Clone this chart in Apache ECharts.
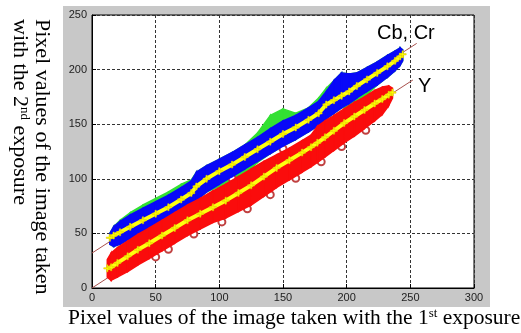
<!DOCTYPE html>
<html>
<head>
<meta charset="utf-8">
<script src="https://cdn.jsdelivr.net/npm/echarts@6/dist/echarts.min.js"></script>
<style>
  html, body { margin: 0; padding: 0; background: #fff; }
  #chart { width: 521px; height: 333px; }
</style>
</head>
<body>
<div id="chart"></div>
<script>
// Cb, Cr band (blue over green, yellow centre)
const cbX      = [14, 17, 22, 30, 40, 50, 60, 70, 78, 82, 90, 100, 110, 120, 130, 140, 150, 160, 170, 178, 184, 190, 196, 202, 208, 216, 224, 232, 238, 242, 244];
const cbTop    = [50, 56, 61, 67, 73, 79, 85, 92, 98, 106, 112, 118, 124, 131, 138, 146, 153, 158, 165, 171, 180, 190, 197, 196, 197, 202, 207, 213, 217, 220, 218];
const cbBottom = [40, 38, 40, 45, 51, 57, 63, 70, 76, 80, 88, 95, 102, 109, 116, 123, 130, 136, 143, 149, 155, 160, 165, 169, 174, 180, 186, 193, 199, 204, 208];
const cbMid    = [46, 48, 51, 56, 62, 68, 74, 81, 87, 93, 100, 107, 113, 120, 127, 134, 141, 147, 154, 160, 168, 172, 176, 180, 185, 191, 197, 203, 208, 212, 214];
const greenTop    = [50, 56, 62, 69, 76, 82, 88, 95, 99, 106, 112, 118, 124, 131, 142, 158, 164, 160, 165, 174, 183, 190, 197, 196, 197, 202, 207, 213, 217, 220, 218];
const greenBottom = [40, 38, 40, 45, 51, 57, 63, 70, 76, 80, 88, 93, 96, 104, 115, 123, 130, 136, 143, 149, 155, 160, 165, 165, 170, 177, 186, 193, 199, 204, 208];

// Y band (red, yellow centre)
const yX      = [12, 15, 20, 28, 36, 45, 55, 65, 75, 85, 95, 105, 115, 125, 135, 145, 155, 165, 172, 177, 183, 190, 198, 206, 214, 222, 228, 233, 236];
const yTop    = [26, 32, 37, 43, 49, 55, 62, 69, 76, 82, 89, 95, 102, 109, 116, 122, 128, 135, 140, 148, 153, 158, 164, 170, 175, 181, 184, 185, 183];
const yBottom = [10, 7, 10, 15, 21, 27, 34, 41, 48, 54, 60, 64, 70, 76, 84, 92, 99, 106, 111, 115, 120, 126, 133, 139, 146, 153, 159, 167, 174];
const yMid    = [18, 19, 23, 29, 35, 41, 48, 55, 62, 68, 74, 80, 87, 94, 102, 110, 117, 124, 129, 133, 138, 144, 151, 157, 163, 169, 173, 177, 179];

// open circles sticking out of the red cloud
const rimPoints = [[50, 28.5], [60, 35.5], [80, 49.5], [102, 60.5], [122, 72.5], [140, 85.5], [160, 100.5], [180, 115.5], [196, 129.5], [215, 144.5], [35, 50.5], [70, 74.5], [110, 100.5], [150, 127.5]];

// fitted lines
const cbLine = [[0, 32], [255, 224]];
const yLine  = [[0, 0], [252, 190.5]];

const xTicks = [0, 300, 50];
const yTicks = [0, 250, 50];

const pair = (xs, ys) => xs.map((x, i) => [x, ys[i]]);
const rows = (xs, top, bot) => xs.map((x, i) => [x, top[i], bot[i]]);

const cross = 'path://M4,0h2v4h4v2h-4v4h-2v-4h-4v-2h4z';

// one quad per step between two neighbouring samples
function band(xs, top, bot, color, z) {
  const data = rows(xs, top, bot);
  return {
    type: 'custom', z: z, silent: true, data: data,
    renderItem: function (params, api) {
      const i = params.dataIndex;
      if (i >= data.length - 1) return null;
      const a = data[i], b = data[i + 1];
      const pts = [
        api.coord([a[0], a[1]]), api.coord([b[0], b[1]]),
        api.coord([b[0], b[2]]), api.coord([a[0], a[2]])
      ];
      return {
        type: 'polygon', shape: { points: pts },
        style: { fill: color, stroke: color, lineWidth: 1.5 }
      };
    }
  };
}

function centre(xs, ys) {
  return {
    type: 'line', z: 6, data: pair(xs, ys), silent: true,
    symbol: cross, symbolSize: 7, showSymbol: true,
    itemStyle: { color: '#ffff00', borderColor: '#d8c000', borderWidth: 0.5 },
    lineStyle: { width: 4, color: '#ffff10' }
  };
}

const chart = echarts.init(document.getElementById('chart'));

const serif = '"Liberation Serif", "Times New Roman", serif';

chart.setOption({
  animation: false,
  backgroundColor: '#fff',
  grid: {
    left: 92, right: 47, top: 15, bottom: 45,
    show: true, backgroundColor: '#fff', borderColor: '#000', borderWidth: 1
  },
  xAxis: {
    type: 'value', min: xTicks[0], max: xTicks[1], interval: xTicks[2],
    axisLine: { lineStyle: { color: '#000' } },
    axisTick: { inside: true, length: 4, lineStyle: { color: '#000' } },
    axisLabel: { color: '#222', fontSize: 11, margin: 4, fontFamily: 'Liberation Sans' },
    splitLine: { show: true, lineStyle: { color: '#333', type: [3, 2] } }
  },
  yAxis: {
    type: 'value', min: yTicks[0], max: yTicks[1], interval: yTicks[2],
    axisLine: { show: true, lineStyle: { color: '#000' } },
    axisTick: { show: true, inside: true, length: 4, lineStyle: { color: '#000' } },
    axisLabel: { color: '#222', fontSize: 11, margin: 5, fontFamily: 'Liberation Sans' },
    splitLine: { show: true, lineStyle: { color: '#333', type: [3, 2] } }
  },
  series: [
    { type: 'line', z: 1, data: cbLine, symbol: 'none', silent: true, lineStyle: { width: 1, color: '#a8504c' } },
    { type: 'line', z: 1, data: yLine, symbol: 'none', silent: true, lineStyle: { width: 1, color: '#a8504c' } },
    band(cbX, greenTop, greenBottom, '#33e033', 2),
    band(cbX, cbTop, cbBottom, '#0808f8', 3),
    band(yX, yTop, yBottom, '#fa0c0c', 3),
    {
      type: 'scatter', z: 2, data: rimPoints, symbol: 'emptyCircle', symbolSize: 7, silent: true,
      itemStyle: { color: '#c04040', borderColor: '#c04040', borderWidth: 1, opacity: 1 }
    },
    centre(cbX, cbMid),
    centre(yX, yMid)
  ],
  graphic: [
    { type: 'rect', z: -100, shape: { x: 63, y: 6, width: 427, height: 301 }, style: { fill: '#c8c8c8' } },
    { type: 'text', x: 377, y: 33, style: { text: 'Cb, Cr', font: '20px "Liberation Sans", Arial', fill: '#000', align: 'left', verticalAlign: 'middle' } },
    { type: 'text', x: 418, y: 86, style: { text: 'Y', font: '20px "Liberation Sans", Arial', fill: '#000', align: 'left', verticalAlign: 'middle' } },
    {
      type: 'text', x: 68, y: 318,
      style: {
        text: '{a|Pixel values of the image taken with the 1}{s|st}{a| exposure}',
        align: 'left', verticalAlign: 'middle', fill: '#000',
        rich: {
          a: { fontFamily: serif, fontSize: 21.5, color: '#000' },
          s: { fontFamily: serif, fontSize: 13, color: '#000', verticalAlign: 'top' }
        }
      }
    },
    {
      type: 'text', x: 42, y: 19, rotation: -Math.PI / 2,
      style: {
        text: 'Pixel values of the image taken',
        font: '22px ' + serif, fill: '#000', align: 'left', verticalAlign: 'middle'
      }
    },
    {
      type: 'text', x: 20, y: 19, rotation: -Math.PI / 2,
      style: {
        text: '{a|with the 2}{s|nd}{a| exposure}',
        align: 'left', verticalAlign: 'middle', fill: '#000',
        rich: {
          a: { fontFamily: serif, fontSize: 22, color: '#000' },
          s: { fontFamily: serif, fontSize: 13, color: '#000', verticalAlign: 'top' }
        }
      }
    }
  ]
});
</script>
</body>
</html>
